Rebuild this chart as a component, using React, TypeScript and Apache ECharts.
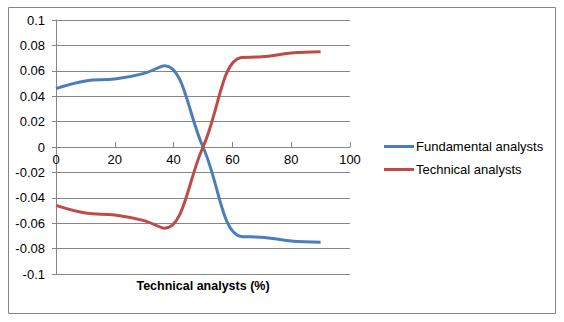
import React, { useEffect, useRef } from "react";
import * as echarts from "echarts";

const xValues = [0, 10, 20, 30, 37, 50, 63, 70, 80, 90];
const fundamental = [0.046, 0.052, 0.0535, 0.058, 0.064, 0, -0.0705, -0.071, -0.074, -0.075];
const technical = [-0.046, -0.052, -0.0535, -0.058, -0.064, 0, 0.0705, 0.071, 0.074, 0.075];
const seriesNames = ["Fundamental analysts", "Technical analysts"];
const xAxisTitle = "Technical analysts (%)";

const FONT = "'Liberation Sans', Arial, sans-serif";

const X_MIN = 0;
const X_MAX = 100;
const X_STEP = 20;

export default function App() {
  const ref = useRef<HTMLDivElement>(null);
  useEffect(() => {
    const chart = echarts.init(ref.current!, null, { renderer: "svg" });
    const pair = (ys: number[]) => xValues.map((x, i) => [x, ys[i]]);
    chart.setOption({
      animation: false,
      backgroundColor: "#ffffff",
      textStyle: { fontFamily: FONT },
      grid: [
        { left: 56, right: 214, top: 20, bottom: 48 },
        // upper half of the plot: its bottom edge is the y = 0 line, where the x axis sits
        { left: 56, right: 214, top: 20, bottom: 175 },
      ],
      xAxis: [
        {
          type: "value",
          gridIndex: 0,
          min: X_MIN,
          max: X_MAX,
          interval: X_STEP,
          show: false,
        },
        {
          type: "value",
          gridIndex: 1,
          min: X_MIN,
          max: X_MAX,
          interval: X_STEP,
          position: "bottom",
          axisLine: { show: true, onZero: false, lineStyle: { color: "#868686", width: 1 } },
          axisTick: { show: true, inside: true, length: 5, lineStyle: { color: "#868686" } },
          axisLabel: { color: "#000", fontSize: 13, fontFamily: FONT, margin: 6 },
          splitLine: { show: false },
        },
      ],
      yAxis: [
        {
          type: "value",
          gridIndex: 0,
          min: -0.1,
          max: 0.1,
          interval: 0.02,
          axisLine: { show: true, onZero: false, lineStyle: { color: "#868686" } },
          axisTick: { show: true, length: 4, lineStyle: { color: "#868686" } },
          axisLabel: {
            color: "#000",
            fontSize: 13,
            fontFamily: FONT,
            margin: 11,
            formatter: (v: number) => String(parseFloat(v.toFixed(2))),
          },
          splitLine: { show: true, lineStyle: { color: "#868686", width: 1 } },
        },
        {
          type: "value",
          gridIndex: 1,
          min: 0,
          max: 0.1,
          show: false,
        },
      ],
      legend: {
        orient: "vertical",
        left: 379,
        top: 135,
        itemWidth: 30,
        itemHeight: 3,
        itemGap: 10,
        icon: "rect",
        textStyle: { fontSize: 13, color: "#000", fontFamily: FONT, padding: [0, 0, 0, -3] },
        data: seriesNames,
      },
      graphic: [
        {
          type: "rect",
          shape: { x: 8.5, y: 7.5, width: 547, height: 306 },
          style: { fill: "none", stroke: "#868686", lineWidth: 1 },
          silent: true,
        },
        {
          type: "text",
          x: 203,
          y: 286,
          style: {
            text: xAxisTitle,
            fontSize: 12.5,
            fontWeight: "bold",
            fontFamily: FONT,
            fill: "#000",
            align: "center",
            verticalAlign: "middle",
          },
        },
      ],
      series: [
        {
          name: seriesNames[0],
          type: "line",
          xAxisIndex: 0,
          yAxisIndex: 0,
          smooth: 0.4,
          showSymbol: false,
          data: pair(fundamental),
          lineStyle: { color: "#4A7EBB", width: 3 },
          itemStyle: { color: "#4A7EBB" },
        },
        {
          name: seriesNames[1],
          type: "line",
          xAxisIndex: 0,
          yAxisIndex: 0,
          smooth: 0.4,
          showSymbol: false,
          data: pair(technical),
          lineStyle: { color: "#BE4B48", width: 3 },
          itemStyle: { color: "#BE4B48" },
        },
      ],
    });
    return () => chart.dispose();
  }, []);
  return (
    <div
      ref={ref}
      style={{ position: "absolute", left: 0, top: 0, width: 564, height: 322 }}
    />
  );
}
